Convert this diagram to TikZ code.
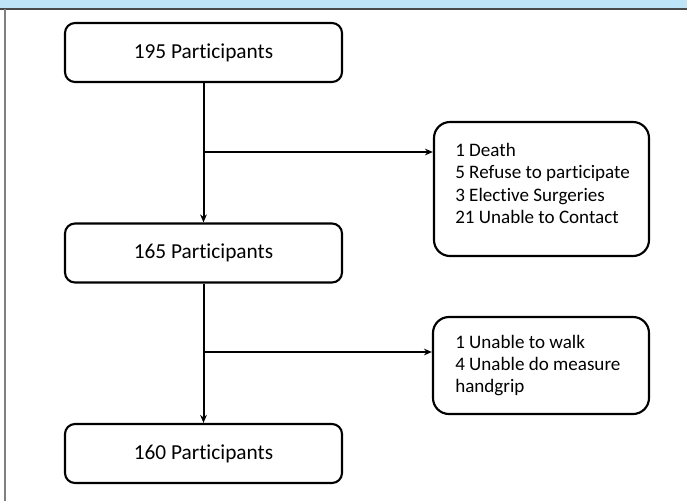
\documentclass[tikz,border=0pt]{standalone}
\usepackage{fontspec}
\setmainfont[Ligatures=NoCommon,RawFeature=-liga]{Carlito}
\usetikzlibrary{arrows.meta}
\definecolor{bandblue}{HTML}{BDE4F7}
\definecolor{framegray}{HTML}{4A4A4A}
\definecolor{leftgray}{HTML}{808080}
\tikzset{
  mainbox/.style={draw, line width=1.6pt, rounded corners=7.5pt, minimum width=277*0.75pt, minimum height=59*0.75pt, inner sep=0pt, font=\fontsize{16}{18}\selectfont},
  sidebox/.style={draw, line width=1.6pt, rounded corners=12pt, inner sep=0pt},
  sidetext/.style={anchor=west, align=left, inner sep=0pt, font=\fontsize{14.3}{16.6}\selectfont},
  flow/.style={line width=1.5pt, -{Stealth[length=6pt, width=5pt]}},
  plain/.style={line width=1.5pt}
}
\begin{document}
\begin{tikzpicture}[x=0.75pt,y=-0.75pt]
\useasboundingbox (0,0) rectangle (687,501);
\fill[white] (0,0) rectangle (687,501);
\fill[bandblue] (0,0) rectangle (687,8.5);
\draw[framegray, line width=1.5pt] (0,9.2) -- (687,9.2);
\draw[leftgray, line width=1pt] (5,9.2) -- (5,501);

\node[mainbox] (p195) at (203.5,52.5) {195 Participants};
\node[mainbox] (p165) at (203.5,253) {165 Participants};
\node[mainbox] (p160) at (203.5,453.5) {160 Participants};

\node[sidebox, minimum width=215*0.75pt, minimum height=134*0.75pt] (ex1) at (541.5,189) {};
\node[sidetext] (ex1t) at (455,183.5) {1 Death\\5 Refuse to participate\\3 Elective Surgeries\\21 Unable to Contact};

\node[sidebox, minimum width=216*0.75pt, minimum height=97*0.75pt] (ex2) at (541,365.5) {};
\node[sidetext] (ex2t) at (455,365.3) {1 Unable to walk\\4 Unable do measure\\handgrip};

\draw[flow] (p195.south) -- (p165.north);
\draw[flow] (p165.south) -- (p160.north);

\coordinate (b1) at (203.5,152);
\coordinate (b2) at (203.5,352);
\draw[flow] (b1) -- (b1 -| ex1.west);
\draw[flow] (b2) -- (b2 -| ex2.west);
\end{tikzpicture}
\end{document}
